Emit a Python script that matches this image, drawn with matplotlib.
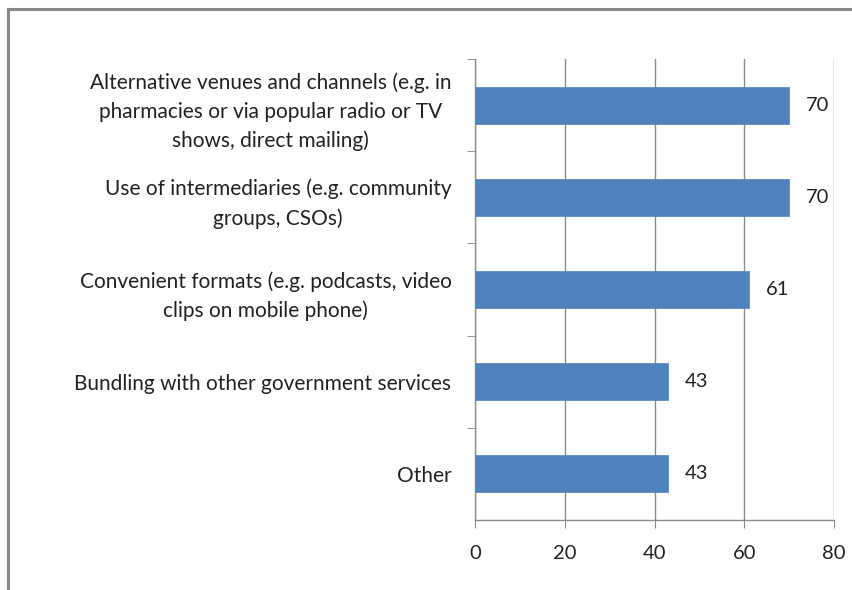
import matplotlib.pyplot as plt
from matplotlib.lines import Line2D

plt.rcParams['font.family'] = ['Lato', 'DejaVu Sans']

categories = [
    'Alternative venues and channels (e.g. in\npharmacies or via popular radio or TV\nshows, direct mailing)',
    'Use of intermediaries (e.g. community\ngroups, CSOs)',
    'Convenient formats (e.g. podcasts, video\nclips on mobile phone)',
    'Bundling with other government services',
    'Other',
]
values = [70, 70, 61, 43, 43]
x_ticks = [0, 20, 40, 60, 80]

fig = plt.figure(figsize=(8.53, 5.90), dpi=100)
ax = fig.add_axes([0.5569, 0.1186, 0.4208, 0.7814])

pos = list(range(len(categories)))
ax.barh(pos, values, height=0.4, color='#4F81BD', edgecolor='#5B8CC8', linewidth=0.6, zorder=3)

for p, v in zip(pos, values):
    ax.annotate(str(v), (v, p), xytext=(12, 0), textcoords='offset points',
                va='center', ha='left', fontsize=14.5, color='#222222')

ax.set_xlim(0, 80)
ax.set_ylim(len(categories) - 0.5, -0.5)
ax.set_xticks(x_ticks)
ax.set_xticklabels([str(t) for t in x_ticks], fontsize=14.5, color='#222222')
ax.set_yticks(pos)
ax.set_yticklabels(categories, fontsize=15, color='#222222', ha='right',
                   multialignment='center', linespacing=1.55)
ax.set_yticks([p + 0.5 for p in pos[:-1]] + [-0.5], minor=True)

ax.grid(axis='x', color='#8C8C8C', linewidth=1.0, zorder=0)
for s in ['top', 'right']:
    ax.spines[s].set_visible(False)
for s in ['left', 'bottom']:
    ax.spines[s].set_color('#8C8C8C')
    ax.spines[s].set_linewidth(1.0)

ax.tick_params(axis='y', which='major', length=0, pad=17)
ax.tick_params(axis='y', which='minor', length=6, color='#8C8C8C')
ax.tick_params(axis='x', length=6, color='#8C8C8C', pad=12)

# outer frame of the chart area
fig.add_artist(Line2D([8 / 853, 8 / 853], [0, 1 - 9 / 590], color='#888888', lw=2.2))
fig.add_artist(Line2D([8 / 853, 1], [1 - 9 / 590, 1 - 9 / 590], color='#888888', lw=2.2))

fig.savefig('out.png', dpi=100)
